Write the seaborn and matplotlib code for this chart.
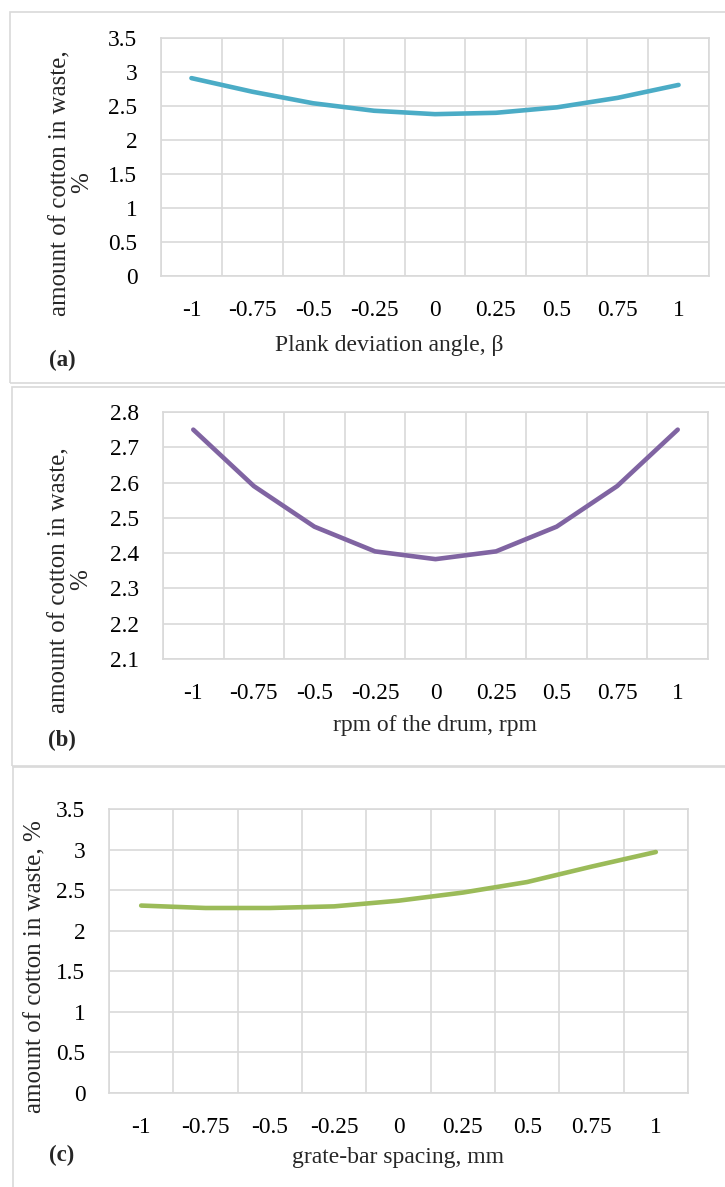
import numpy as np
import pandas as pd
import matplotlib
matplotlib.use("Agg")
import matplotlib.pyplot as plt
from matplotlib.patches import Rectangle
from matplotlib.ticker import FixedLocator, MultipleLocator
import seaborn as sns

# Coded factor levels shared by all three panels
levels = ["-1", "-0.75", "-0.5", "-0.25", "0", "0.25", "0.5", "0.75", "1"]

# Amount of cotton in waste (%) for each factor
plank_angle = [2.91, 2.71, 2.54, 2.43, 2.38, 2.40, 2.48, 2.62, 2.81]
drum_rpm = [2.75, 2.59, 2.475, 2.405, 2.383, 2.405, 2.475, 2.59, 2.75]
grate_spacing = [2.31, 2.28, 2.28, 2.30, 2.37, 2.47, 2.60, 2.79, 2.97]

panel_tags = ["(a)", "(b)", "(c)"]
x_titles = ["Plank deviation angle, β", "rpm of the drum, rpm", "grate-bar spacing, mm"]
y_titles = ["amount of cotton in waste,\n%", "amount of cotton in waste,\n%",
            "amount of cotton in waste, %"]

sns.set_theme(style="white")
plt.rcParams["font.family"] = ["Liberation Serif", "DejaVu Serif"]

W, H = 725, 1187
fig = plt.figure(figsize=(W / 100, H / 100), dpi=100)
fig.patch.set_facecolor("white")

GRID = "#D9D9D9"


def fx(px):
    return px / W


def fy(py):
    return 1 - py / H


def add_axes(l, t, r, b):
    return fig.add_axes([fx(l), fy(b), fx(r) - fx(l), (b - t) / H])


def rect(l, t, r, b):
    fig.patches.append(Rectangle((fx(l), fy(b)), fx(r) - fx(l), (b - t) / H,
                                 transform=fig.transFigure, fill=False,
                                 edgecolor=GRID, lw=1.2, zorder=0))


panels = [
    dict(vals=plank_angle, color="#4BACC6", box=(10, 12, 760, 383),
         ax=(161, 38, 709, 276), ylim=(0, 3.5), ystep=0.5,
         ylab=(71, 183), xlab=(389, 345), tag=(62, 360)),
    dict(vals=drum_rpm, color="#8064A2", box=(12, 387, 760, 766),
         ax=(163, 412, 708, 659), ylim=(2.1, 2.8), ystep=0.1,
         ylab=(70, 580), xlab=(435, 725), tag=(62, 740)),
    dict(vals=grate_spacing, color="#9BBB59", box=(13, 767, 760, 1220),
         ax=(109, 809, 688, 1093), ylim=(0, 3.5), ystep=0.5,
         ylab=(35, 967), xlab=(398, 1158), tag=(62, 1155)),
]

for i, p in enumerate(panels):
    rect(*p["box"])
    ax = add_axes(*p["ax"])
    df = pd.DataFrame({"level": levels, "cotton": p["vals"]})
    sns.lineplot(data=df, x="level", y="cotton", ax=ax, color=p["color"],
                 lw=3.3, solid_capstyle="round", sort=False, zorder=3)
    ax.set_xlim(-0.5, len(levels) - 0.5)
    ax.set_ylim(*p["ylim"])
    ax.yaxis.set_major_locator(MultipleLocator(p["ystep"]))
    if p["ystep"] < 0.5:
        ax.set_yticklabels([f"{v:.1f}" for v in ax.get_yticks()])
    else:
        ax.set_yticklabels([f"{v:g}" for v in ax.get_yticks()])
    ax.set_ylim(*p["ylim"])
    ax.xaxis.set_minor_locator(FixedLocator(np.arange(-0.5, len(levels), 1.0)))
    ax.grid(True, axis="y", which="major", color=GRID, lw=1.2)
    ax.grid(True, axis="x", which="minor", color=GRID, lw=1.2)
    ax.grid(False, axis="x", which="major")
    for s in ax.spines.values():
        s.set_color(GRID)
        s.set_linewidth(1.2)
    ax.tick_params(axis="both", which="both", length=0, labelsize=16.8,
                   colors="black")
    ax.tick_params(axis="x", pad=17)
    ax.tick_params(axis="y", pad=17)
    ax.set_xlabel("")
    ax.set_ylabel("")

    fig.text(fx(p["ylab"][0]), fy(p["ylab"][1]), y_titles[i], rotation=90,
             ha="center", va="center", multialignment="center", fontsize=18,
             linespacing=1.0)
    fig.text(fx(p["xlab"][0]), fy(p["xlab"][1]), x_titles[i], ha="center",
             va="center", fontsize=17)
    fig.text(fx(p["tag"][0]), fy(p["tag"][1]), panel_tags[i], ha="center",
             va="center", fontsize=16.5, fontweight="bold")

fig.savefig("out.png", dpi=100, facecolor="white")
